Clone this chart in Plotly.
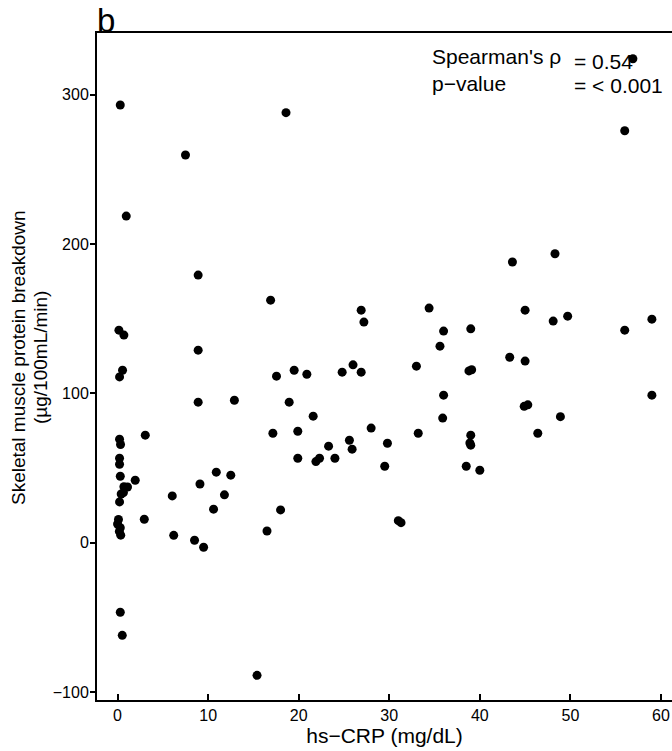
import plotly.graph_objects as go

# hs-CRP (mg/dL)
crp = [0.30, 18.6, 7.5, 0.96, 56.9, 56.0, 48.3, 43.6, 26.9, 27.2,
       34.4, 36.0, 35.6, 39.0, 45.0, 48.1, 49.7, 56.0, 59.0, 43.3,
       45.0, 26.0, 26.9, 33.0, 38.8, 39.1, 36.0, 59.0, 44.9, 45.3,
       48.9, 35.9, 28.0, 33.2, 46.4, 39.0, 38.9, 39.0, 25.6, 25.9,
       29.8, 29.5, 38.5, 40.0, 8.9, 16.9, 0.15, 0.7, 8.9, 0.55,
       0.22, 17.55, 19.5, 20.9, 24.8, 8.9, 12.9, 18.95, 21.6, 3.06,
       17.15, 19.9, 0.22, 0.33, 0.22, 0.22, 23.3, 19.9, 21.9, 22.3,
       24.0, 0.3, 1.95, 10.9, 12.5, 9.1, 0.7, 1.1, 0.4, 0.65,
       0.22, 6.04, 11.8, 10.6, 18.0, 2.95, 6.2, 16.5, 8.5, 9.5,
       0.3, 0.52, 15.4, 31.0, 31.3, 0.1, 0.0, 0.3, 0.2, 0.35]

# Skeletal muscle protein breakdown (ug/100mL/min)
smpb = [293.1, 288.0, 259.6, 218.7, 324.1, 275.9, 193.5, 188.0, 155.7, 147.7,
        157.1, 141.7, 131.6, 143.2, 155.7, 148.4, 151.7, 142.3, 149.7, 124.2,
        121.6, 119.1, 114.2, 118.2, 115.0, 115.8, 98.8, 98.8, 91.3, 92.3,
        84.4, 83.4, 76.7, 73.3, 73.3, 72.0, 66.8, 65.3, 68.6, 62.6,
        66.6, 51.2, 51.2, 48.5, 179.2, 162.4, 142.3, 139.0, 128.9, 115.5,
        111.0, 111.5, 115.5, 112.8, 114.2, 94.1, 95.4, 94.1, 84.7, 72.0,
        73.3, 74.6, 69.3, 65.7, 56.5, 52.5, 64.6, 56.5, 54.3, 56.5,
        56.5, 44.5, 41.8, 47.2, 45.2, 39.3, 37.5, 37.3, 32.6, 33.5,
        27.3, 31.3, 32.0, 22.4, 21.9, 15.7, 4.9, 7.8, 1.6, -3.1,
        -46.6, -62.1, -88.9, 14.7, 13.4, 15.5, 12.5, 10.0, 7.5, 5.0]

x_ticks = [0, 10, 20, 30, 40, 50, 60]
y_ticks = [-100, 0, 100, 200, 300]

W, H = 672, 751
L, R, T, B = 97, 672, 33, 700
FONT = "Liberation Sans"


def px(xp):
    return (xp - L) / (R - L)


def py(yp):
    return (B - yp) / (B - T)


fig = go.Figure()
fig.add_trace(go.Scatter(
    x=crp, y=smpb, mode="markers",
    marker=dict(color="black", size=9, line=dict(width=0)),
    showlegend=False, hoverinfo="x+y",
))

fig.update_layout(
    width=W, height=H,
    margin=dict(l=L, r=W - R, t=T, b=H - B),
    paper_bgcolor="white", plot_bgcolor="white",
    font=dict(family=FONT, color="black"),
    xaxis=dict(
        range=[-2.27, 61.22], tickvals=x_ticks,
        showgrid=False, zeroline=False,
        showline=True, linecolor="black", linewidth=2, mirror=True,
        ticks="inside", ticklen=6, tickwidth=1.5, tickcolor="black",
        tickfont=dict(size=16, family=FONT, color="black"),
        title=dict(text="hs−CRP (mg/dL)", font=dict(size=21, family=FONT, color="black"), standoff=4),
    ),
    yaxis=dict(
        range=[-105.4, 341.35], tickvals=y_ticks,
        showgrid=False, zeroline=False,
        showline=True, linecolor="black", linewidth=2,
        ticks="outside", ticklen=5, tickwidth=1.5, tickcolor="black",
        tickfont=dict(size=16, family=FONT, color="black"),
        ticklabelstandoff=-2,
    ),
    annotations=[
        dict(text="b", xref="paper", yref="paper", x=px(95), y=py(21),
             xanchor="left", yanchor="middle", showarrow=False,
             font=dict(size=33, family=FONT, color="black")),
        dict(text="Skeletal muscle protein breakdown", xref="paper", yref="paper",
             x=px(18), y=py(358), xanchor="center", yanchor="middle", textangle=-90,
             showarrow=False, font=dict(size=19, family=FONT, color="black")),
        dict(text="(µg/100mL/min)", xref="paper", yref="paper",
             x=px(40), y=py(358), xanchor="center", yanchor="middle", textangle=-90,
             showarrow=False, font=dict(size=19, family=FONT, color="black")),
        dict(text="Spearman's ρ", xref="paper", yref="paper", x=px(429.5), y=py(56.8),
             xanchor="left", yanchor="middle", showarrow=False,
             font=dict(size=21, family=FONT, color="black")),
        dict(text="= 0.54", xref="paper", yref="paper", x=px(571.5), y=py(61.2),
             xanchor="left", yanchor="middle", showarrow=False,
             font=dict(size=21, family=FONT, color="black")),
        dict(text="p−value", xref="paper", yref="paper", x=px(429.5), y=py(83.7),
             xanchor="left", yanchor="middle", showarrow=False,
             font=dict(size=21, family=FONT, color="black")),
        dict(text="= < 0.001", xref="paper", yref="paper", x=px(571.5), y=py(85.2),
             xanchor="left", yanchor="middle", showarrow=False,
             font=dict(size=21, family=FONT, color="black")),
    ],
)

fig.write_html("out.html",
               config={"displayModeBar": False},
               post_script="document.body.style.margin='0';document.body.style.padding='0';document.body.style.overflow='hidden';")
